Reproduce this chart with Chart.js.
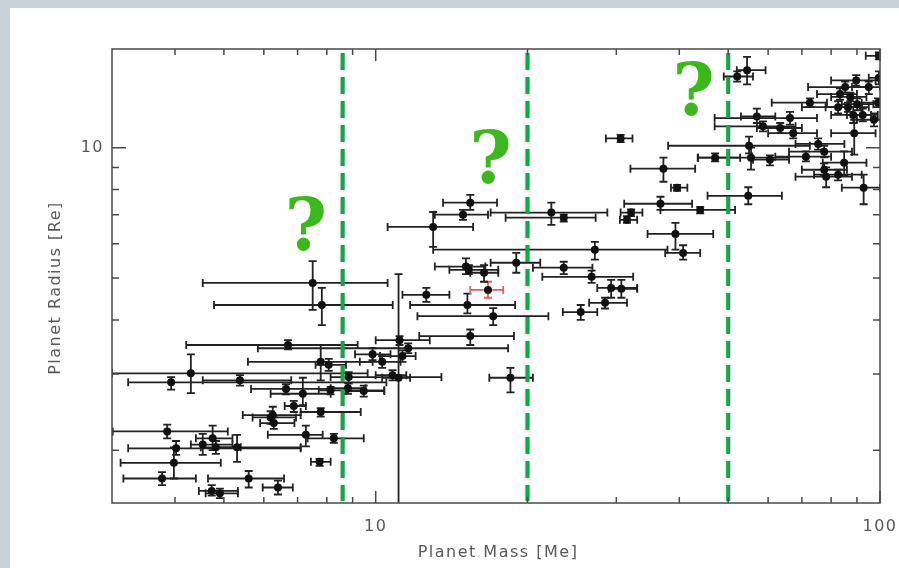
<!DOCTYPE html>
<html><head><meta charset="utf-8">
<script src="https://cdn.jsdelivr.net/npm/chart.js@4.4.1/dist/chart.umd.min.js"></script>
<style>html,body{margin:0;padding:0;background:#fff;}canvas{display:block;}</style>
</head><body><canvas id="c" width="899" height="568"></canvas>
<script>
// ---- data (Planet mass [Me], radius [Re], error bar ends) ----
const mass   = [3.77,3.86,3.93,4.30,3.98,4.02,4.54,4.75,4.82,5.31,4.73,4.91,5.60,6.40,5.38,6.64,7.17,8.14,8.81,9.47,6.88,6.25,6.19,6.28,7.78,7.27,8.26,7.74,6.70,7.78,8.07,8.84,9.86,10.3,10.8,11.1,11.15,11.3,11.6,7.50,7.82,12.6,15.2,17.1,15.4,16.7,15.1,15.3,16.4,19.0,18.5,13.0,14.9,15.4,22.3,23.6,27.2,23.6,26.8,29.3,30.7,28.5,25.5,30.6,37.2,39.6,36.7,32.1,31.5,44.0,39.3,40.7,47.1,54.8,55.0,55.5,60.5,54.5,52.1,99.5,89.7,99.5,95.0,85.3,83.3,87.3,82.6,86.4,90.1,99.1,88.5,92.4,97.3,88.9,57.0,66.3,58.6,63.4,67.3,72.6,75.4,77.5,71.3,84.9,77.5,78.2,82.6,92.8];
const massLo = [3.16,3.01,3.23,3.0,3.12,3.23,4.30,4.40,4.50,4.82,4.46,4.60,4.65,5.97,4.54,5.66,6.19,7.71,8.14,8.73,6.60,5.45,5.70,5.90,7.10,6.11,7.33,7.44,4.21,5.58,7.60,8.14,9.10,9.30,10.0,10.3,10.0,10.2,5.84,4.54,4.78,11.3,11.7,12.1,12.2,15.4,13.1,14.0,15.4,16.9,16.8,10.56,13.1,13.6,16.9,18.1,13.0,20.5,21.4,27.5,29.0,26.5,23.5,28.6,32.0,38.5,31.1,30.6,30.5,36.7,34.6,37.5,43.6,45.5,38.0,43.5,56.0,52.0,49.0,93.7,80.0,95.0,88.0,72.0,75.0,80.0,70.0,78.0,84.0,92.0,80.0,86.0,90.0,80.0,53.0,47.0,47.0,57.0,60.0,61.0,68.0,66.0,62.0,77.0,70.0,68.0,74.0,84.0];
const massHi = [4.40,5.09,10.5,9.64,4.93,7.10,5.20,5.20,5.40,7.10,5.33,5.33,6.58,6.85,6.80,8.14,8.14,10.4,9.55,10.4,7.27,7.10,6.95,6.90,9.34,7.85,9.47,8.14,9.21,9.86,8.73,13.5,10.7,11.2,11.5,11.7,12.8,12.0,18.3,10.56,10.81,14.0,18.9,22.0,18.8,17.9,16.5,17.5,17.5,21.2,20.5,15.6,16.7,17.4,28.8,27.3,37.9,26.9,32.4,33.0,33.0,31.5,27.5,32.3,43.0,41.5,42.4,33.8,33.0,51.6,46.7,44.0,52.8,63.9,72.6,66.0,66.0,59.3,56.0,101,98.0,104,100,95.0,90.0,94.0,92.0,95.0,97.0,105,96.0,99.0,104,98.0,62.0,75.0,68.0,70.0,75.0,78.5,85.0,88.0,80.0,94.0,86.0,88.0,92.0,100];
const radius = [1.72,2.21,2.87,3.01,1.87,2.02,2.06,2.13,2.03,2.03,1.61,1.59,1.72,1.64,2.90,2.77,2.70,2.75,2.78,2.74,2.53,2.41,2.38,2.31,2.45,2.17,2.13,1.88,3.50,3.20,3.15,2.95,3.33,3.20,2.98,2.94,3.59,3.30,3.44,4.87,4.33,4.57,4.33,4.08,3.67,4.69,5.31,5.22,5.14,5.42,2.94,6.56,7.00,7.46,7.08,6.89,5.81,5.28,5.03,4.74,4.72,4.38,4.17,10.5,8.94,8.08,7.42,7.08,6.81,7.18,6.32,5.71,9.48,7.74,10.1,9.48,9.38,15.1,14.6,16.3,14.3,14.5,13.8,13.8,13.3,13.1,12.4,12.4,12.6,12.7,11.9,11.9,11.6,10.8,11.8,11.7,11.2,11.1,10.8,12.7,10.2,9.79,9.53,9.23,8.89,8.57,8.66,8.08];
const radLo  = [1.66,2.13,2.76,2.71,1.72,1.95,1.95,2.00,1.96,1.88,1.57,1.55,1.64,1.58,2.82,2.69,2.54,2.69,2.70,2.66,2.45,2.30,2.30,2.24,2.39,2.04,2.08,1.84,3.42,2.90,3.05,2.85,3.23,3.10,2.90,1.40,3.50,3.20,3.35,4.22,3.89,4.40,4.14,3.89,3.50,4.50,5.10,5.10,4.90,5.14,2.72,5.90,6.81,7.18,6.63,6.75,5.51,5.10,4.87,4.50,4.50,4.25,4.00,10.3,8.34,7.95,7.18,6.95,6.70,7.05,5.81,5.51,9.30,7.40,9.70,8.90,9.10,14.0,14.2,16.0,13.9,14.0,13.3,13.4,12.9,12.8,12.0,12.1,12.2,12.4,11.4,11.5,11.2,9.63,11.4,11.3,10.9,10.8,10.5,12.4,9.90,9.50,9.30,8.60,8.60,8.10,8.40,7.40];
const radHi  = [1.78,2.29,2.95,3.33,2.03,2.10,2.18,2.28,2.10,2.17,1.66,1.63,1.79,1.70,2.98,2.84,2.94,2.80,2.86,2.82,2.60,2.52,2.46,2.38,2.50,2.28,2.18,1.91,3.59,3.50,3.25,3.03,3.44,3.30,3.06,5.10,3.67,3.40,3.53,5.47,4.74,4.74,4.60,4.26,3.80,4.90,5.55,5.35,5.35,5.71,3.10,7.10,7.18,7.78,7.46,7.00,6.06,5.45,5.20,4.95,4.95,4.50,4.33,10.7,9.48,8.20,7.70,7.20,6.95,7.30,6.70,5.95,9.70,8.10,10.6,10.0,9.60,16.2,15.0,16.6,14.7,15.0,14.2,14.2,13.7,13.4,12.8,12.7,13.0,13.0,12.4,12.3,12.0,11.6,12.3,12.1,11.5,11.4,11.1,13.0,10.5,10.1,9.80,9.80,9.20,9.00,8.90,8.66];
const highlighted = [45];               // point drawn with red error bars
const boundaries = [8.6, 20, 50];       // dashed green mass boundaries
const questionAt = [[7.27, 5.81], [16.9, 8.30], [42.7, 11.9]]; // baseline positions of "?" marks
const xTickMajor = [10, 100];
const xTickLabels = ['10', '100'];
const xTickMinor = [4,5,6,7,8,9,20,30,40,50,60,70,80,90];
const yTickMajor = [10];
const yTickLabels = ['10'];
const yTickMinor = [2,3,4,5,6,7,8,9];
const xTitle = 'Planet Mass [Me]';
const yTitle = 'Planet Radius [Re]';

const points = mass.map((m, i) => ({x: m, y: radius[i]}));

const deco = {
  id: 'deco',
  beforeDraw(chart) {
    const ctx = chart.ctx;
    ctx.save();
    ctx.fillStyle = '#ffffff';
    ctx.fillRect(0, 0, chart.width, chart.height);
    ctx.fillStyle = '#c8d2da';
    ctx.fillRect(0, 0, chart.width, 8);
    ctx.fillRect(0, 0, 10, chart.height);
    ctx.restore();
  },
  beforeDatasetsDraw(chart) {
    const {ctx, chartArea: a, scales: {x, y}} = chart;
    ctx.save();
    ctx.beginPath(); ctx.rect(a.left, a.top, a.right - a.left, a.bottom - a.top); ctx.clip();
    ctx.lineWidth = 1.8;
    const cap = 4;
    for (let i = 0; i < mass.length; i++) {
      ctx.strokeStyle = highlighted.includes(i) ? '#e06060' : '#222';
      const px = x.getPixelForValue(mass[i]), py = y.getPixelForValue(radius[i]);
      const x0 = x.getPixelForValue(massLo[i]), x1 = x.getPixelForValue(massHi[i]);
      const y0 = y.getPixelForValue(radLo[i]), y1 = y.getPixelForValue(radHi[i]);
      ctx.beginPath();
      ctx.moveTo(x0, py); ctx.lineTo(x1, py);
      ctx.moveTo(x0, py - cap); ctx.lineTo(x0, py + cap);
      ctx.moveTo(x1, py - cap); ctx.lineTo(x1, py + cap);
      ctx.moveTo(px, y0); ctx.lineTo(px, y1);
      ctx.moveTo(px - cap, y0); ctx.lineTo(px + cap, y0);
      ctx.moveTo(px - cap, y1); ctx.lineTo(px + cap, y1);
      ctx.stroke();
    }
    ctx.restore();
  },
  afterDatasetsDraw(chart) {
    const {ctx, chartArea: a, scales: {x, y}} = chart;
    ctx.save();
    ctx.strokeStyle = '#12a84a';
    ctx.lineWidth = 4;
    ctx.setLineDash([17, 7]);
    ctx.shadowColor = 'rgba(0,0,0,0.25)';
    ctx.shadowBlur = 3;
    boundaries.forEach(b => {
      const px = x.getPixelForValue(b);
      ctx.beginPath(); ctx.moveTo(px, a.top + 4); ctx.lineTo(px, a.bottom - 2); ctx.stroke();
    });
    ctx.restore();
    ctx.save();
    ctx.fillStyle = '#3cb81c';
    ctx.font = 'bold 72px "DejaVu Serif"';
    ctx.textAlign = 'center'; ctx.textBaseline = 'alphabetic';
    questionAt.forEach(([m, r]) => ctx.fillText('?', x.getPixelForValue(m), y.getPixelForValue(r)));
    ctx.restore();
  },
  afterDraw(chart) {
    const {ctx, chartArea: a, scales: {x, y}} = chart;
    ctx.save();
    ctx.strokeStyle = '#4a4a4a';
    ctx.lineWidth = 1.5;
    ctx.strokeRect(a.left, a.top, a.right - a.left, a.bottom - a.top);
    ctx.beginPath();
    const tx = (v, len) => { const p = x.getPixelForValue(v);
      ctx.moveTo(p, a.bottom); ctx.lineTo(p, a.bottom - len);
      ctx.moveTo(p, a.top); ctx.lineTo(p, a.top + len); };
    const ty = (v, len) => { const p = y.getPixelForValue(v);
      ctx.moveTo(a.left, p); ctx.lineTo(a.left + len, p);
      ctx.moveTo(a.right, p); ctx.lineTo(a.right - len, p); };
    xTickMinor.forEach(v => tx(v, 6));
    xTickMajor.forEach(v => tx(v, 12));
    yTickMinor.forEach(v => ty(v, 7));
    yTickMajor.forEach(v => ty(v, 14));
    ctx.stroke();
    ctx.fillStyle = '#5a5a5a';
    ctx.font = '16px "DejaVu Sans"';
    if ('letterSpacing' in ctx) ctx.letterSpacing = '1.5px';
    ctx.textAlign = 'center'; ctx.textBaseline = 'middle';
    xTickMajor.forEach((v, i) => ctx.fillText(xTickLabels[i], x.getPixelForValue(v), 527));
    ctx.textAlign = 'right';
    yTickMajor.forEach((v, i) => ctx.fillText(yTickLabels[i], 104, y.getPixelForValue(v)));
    ctx.textAlign = 'center';
    ctx.fillText(xTitle, (a.left + a.right) / 2 + 2, 553);
    ctx.translate(56, (a.top + a.bottom) / 2 + 12);
    ctx.rotate(-Math.PI / 2);
    ctx.fillText(yTitle, 0, 0);
    ctx.restore();
  }
};

new Chart(document.getElementById('c'), {
  type: 'scatter',
  data: { datasets: [{ data: points, pointRadius: 4, pointHoverRadius: 4,
    backgroundColor: '#111', borderColor: '#111', borderWidth: 0 }] },
  options: {
    responsive: false, animation: false, devicePixelRatio: 1,
    layout: { padding: { left: 112, right: 19, top: 49, bottom: 65 } },
    plugins: { legend: { display: false }, tooltip: { enabled: false } },
    scales: {
      x: { type: 'logarithmic', min: 3.0, max: 100, display: false },
      y: { type: 'logarithmic', min: 1.51, max: 16.9, display: false }
    }
  },
  plugins: [deco]
});
</script></body></html>
